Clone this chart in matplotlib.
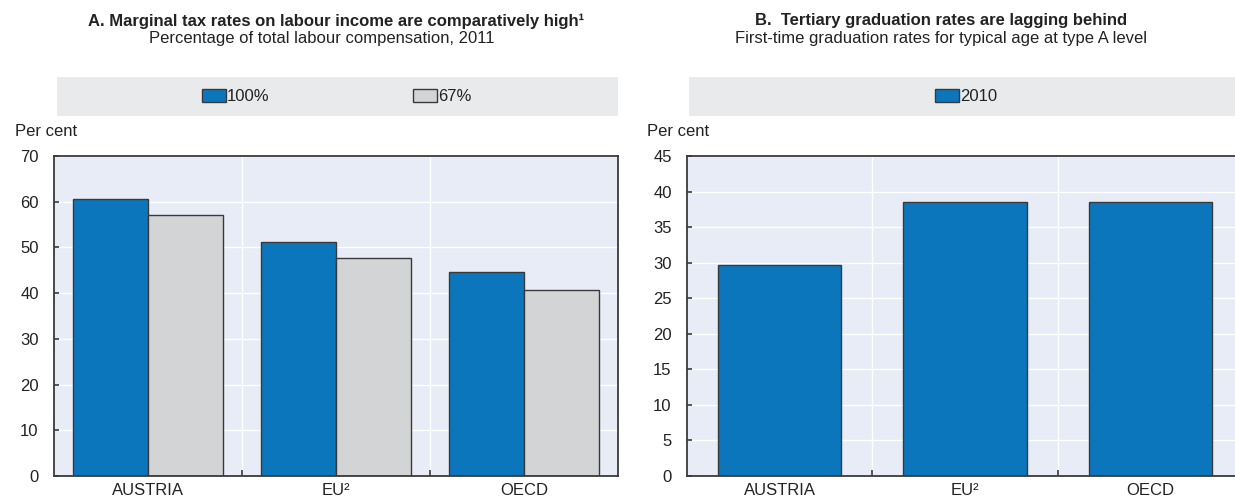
import matplotlib
matplotlib.use("Agg")
import matplotlib.pyplot as plt
from matplotlib import font_manager
from matplotlib.patches import Patch
import numpy as np

# data
countries = ["AUSTRIA", "EU²", "OECD"]
tax_100 = [60.6, 51.1, 44.6]
tax_67 = [57.0, 47.7, 40.7]
grad_2010 = [29.7, 38.6, 38.6]

blue = "#0b76bc"
grey = "#d3d4d6"
plot_bg = "#e7ecf6"
band_bg = "#e9eaec"
edge = "#3a3a3a"

installed = {f.name for f in font_manager.fontManager.ttflist}
fam = "Liberation Sans Narrow" if "Liberation Sans Narrow" in installed else "Liberation Sans"
fs = 13.5 if fam == "Liberation Sans Narrow" else 12
plt.rcParams['font.family'] = [fam, 'DejaVu Sans']
plt.rcParams['font.size'] = fs
plt.rcParams['text.color'] = "#222222"

W, H = 1235, 499
fig = plt.figure(figsize=(W / 100, H / 100), dpi=100)


def px_box(x0, x1, ytop, ybot):
    # pixel box -> figure fraction rect
    return [x0 / W, 1 - ybot / H, (x1 - x0) / W, (ybot - ytop) / H]


def style_axes(ax, ymax, step):
    ax.set_facecolor(plot_bg)
    ax.set_xlim(-0.5, 2.5)
    ax.set_ylim(0, ymax)
    ax.set_yticks(np.arange(0, ymax + 1, step))
    ax.set_xticks(range(3))
    ax.set_xticklabels(countries)
    ax.set_xticks([0.5, 1.5], minor=True)
    ax.tick_params(axis='x', which='major', length=0, pad=5, labelsize=fs, labelcolor="#222222")
    ax.tick_params(axis='x', which='minor', direction='in', length=4, width=1.2, color=edge)
    ax.tick_params(axis='y', direction='in', length=3.5, width=1.2, color=edge, pad=11,
                   labelsize=fs, labelcolor="#222222")
    ax.grid(axis='y', color='white', lw=1)
    ax.grid(axis='x', which='minor', color='white', lw=1)
    ax.set_axisbelow(True)
    for s in ax.spines.values():
        s.set_color(edge)
        s.set_linewidth(1.3)


def band(x0, x1, handles, anchor_x, colspace):
    bax = fig.add_axes(px_box(x0, x1, 77, 116))
    bax.set_facecolor(band_bg)
    bax.set_xticks([])
    bax.set_yticks([])
    for s in bax.spines.values():
        s.set_visible(False)
    bax.legend(handles=handles, ncol=len(handles), loc='center left',
               bbox_to_anchor=((anchor_x - x0) / (x1 - x0), 0.5), frameon=False,
               borderaxespad=0, borderpad=0, handlelength=1.45, handleheight=0.78,
               handletextpad=0.05, columnspacing=colspace, fontsize=fs)


# Panel A
axA = fig.add_axes(px_box(54, 618, 156, 476))
x = np.arange(len(countries))
axA.bar(x - 0.2, tax_100, width=0.4, color=blue, edgecolor=edge, lw=1, label="100%")
axA.bar(x + 0.2, tax_67, width=0.4, color=grey, edgecolor=edge, lw=1, label="67%")
style_axes(axA, 70, 10)
band(57, 618, [Patch(facecolor=blue, edgecolor=edge, label="100%"),
               Patch(facecolor=grey, edgecolor=edge, label="67%")], 202, 8.6)

fig.text(336 / W, 1 - 21 / H, "A. Marginal tax rates on labour income are comparatively high¹",
         ha='center', va='center', fontweight='bold')
fig.text(322 / W, 1 - 39 / H, "Percentage of total labour compensation, 2011",
         ha='center', va='center')
fig.text(15 / W, 1 - 132 / H, "Per cent", ha='left', va='center')

# Panel B
axB = fig.add_axes(px_box(687, 1243, 156, 476))
axB.bar(x, grad_2010, width=2 / 3, color=blue, edgecolor=edge, lw=1, label="2010")
style_axes(axB, 45, 5)
band(689, 1240, [Patch(facecolor=blue, edgecolor=edge, label="2010")], 935, 1)

fig.text(941 / W, 1 - 21 / H, "B.  Tertiary graduation rates are lagging behind",
         ha='center', va='center', fontweight='bold')
fig.text(941 / W, 1 - 39 / H, "First-time graduation rates for typical age at type A level",
         ha='center', va='center')
fig.text(647 / W, 1 - 132 / H, "Per cent", ha='left', va='center')

fig.savefig("out.png", dpi=100)
